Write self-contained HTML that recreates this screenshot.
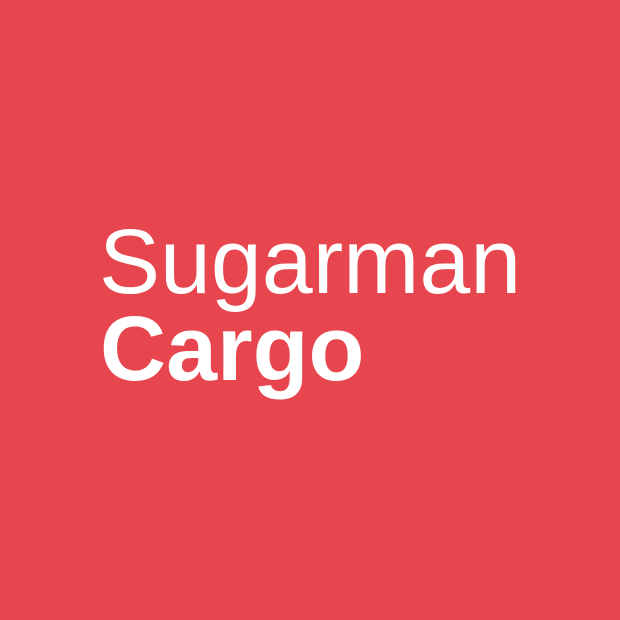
<!DOCTYPE html>
<html>
<head>
<meta charset="utf-8">
<style>
  html,body{margin:0;padding:0;width:620px;height:620px;overflow:hidden;background:#E8464E;}
  svg{display:block;}
</style>
</head>
<body>
<svg width="620" height="620" viewBox="0 0 620 620">
  <rect x="0" y="0" width="620" height="620" fill="#E8464E"/>
  <text x="99" y="293" font-family="'Liberation Sans', Arial, sans-serif" font-size="91.5" fill="#ffffff">Sugarman</text>
  <text x="100" y="380" font-family="'Liberation Sans', Arial, sans-serif" font-size="91.5" font-weight="bold" fill="#ffffff">Cargo</text>
</svg>
</body>
</html>
